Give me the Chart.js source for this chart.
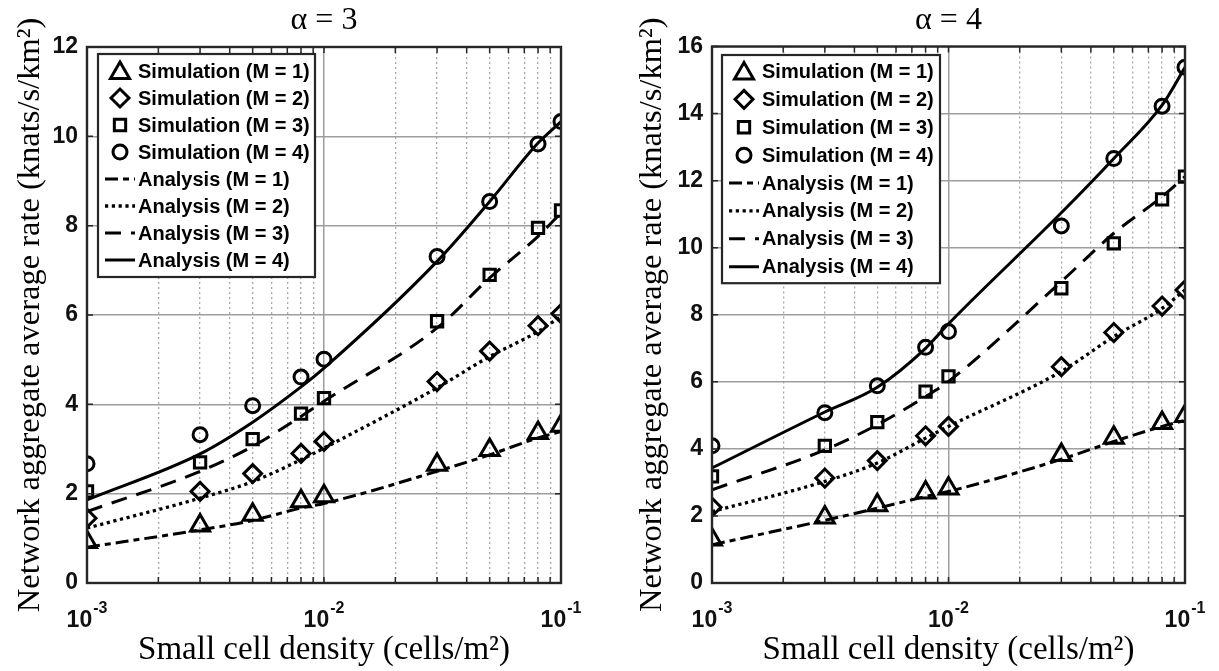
<!DOCTYPE html>
<html><head><meta charset="utf-8">
<script src="https://cdn.jsdelivr.net/npm/chart.js@4.4.0/dist/chart.umd.min.js"></script>
<style>
html,body{margin:0;padding:0;background:#fff;width:1219px;height:671px;overflow:hidden;}
.wrap{position:absolute;top:0;height:671px;}
canvas{display:block;}
</style></head><body>
<div class="wrap" style="left:0;width:600px"><canvas id="c1" width="600" height="671"></canvas></div>
<div class="wrap" style="left:610px;width:609px"><canvas id="c2" width="609" height="671"></canvas></div>
<script>
// ---- data ----
const densities = [0.001, 0.003, 0.005, 0.008, 0.01, 0.03, 0.05, 0.08, 0.1];
const xTickValues = [0.001, 0.01, 0.1];
const xTickBase = ['10', '10', '10'];
const xTickExp = ['-3', '-2', '-1'];
const xMinorValues = [0.002,0.003,0.004,0.005,0.006,0.007,0.008,0.009,0.02,0.03,0.04,0.05,0.06,0.07,0.08,0.09];
const seriesLabels = ['Simulation (M = 1)','Simulation (M = 2)','Simulation (M = 3)','Simulation (M = 4)',
                      'Analysis (M = 1)','Analysis (M = 2)','Analysis (M = 3)','Analysis (M = 4)'];
const titles = ['α = 3', 'α = 4'];
const xTitle = 'Small cell density (cells/m²)';
const yTitle = 'Network aggregate average rate (knats/s/km²)';

// alpha = 3
const a3SimM1 = [0.92, 1.29, 1.53, 1.83, 1.94, 2.65, 2.98, 3.36, 3.52];
const a3SimM2 = [1.45, 2.05, 2.45, 2.90, 3.17, 4.51, 5.19, 5.76, 6.03];
const a3SimM3 = [2.05, 2.70, 3.22, 3.79, 4.14, 5.86, 6.90, 7.95, 8.34];
const a3SimM4 = [2.67, 3.32, 3.97, 4.61, 5.01, 7.31, 8.54, 9.83, 10.33];
const a3AnaM1 = [0.80, 1.19, 1.40, 1.68, 1.78, 2.50, 2.87, 3.25, 3.39];
const a3AnaM2 = [1.23, 1.90, 2.27, 2.76, 3.02, 4.37, 5.07, 5.63, 5.97];
const a3AnaM3 = [1.60, 2.50, 3.06, 3.73, 4.07, 5.71, 6.83, 7.76, 8.29];
const a3AnaM4 = [1.86, 2.89, 3.60, 4.39, 4.81, 7.20, 8.54, 9.85, 10.33];
// alpha = 4
const a4SimM1 = [1.30, 1.95, 2.32, 2.70, 2.82, 3.82, 4.33, 4.77, 4.98];
const a4SimM2 = [2.26, 3.13, 3.65, 4.39, 4.67, 6.45, 7.47, 8.26, 8.74];
const a4SimM3 = [3.18, 4.09, 4.80, 5.71, 6.16, 8.79, 10.13, 11.44, 12.12];
const a4SimM4 = [4.09, 5.08, 5.88, 7.03, 7.50, 10.65, 12.66, 14.22, 15.38];
const a4AnaM1 = [1.14, 1.87, 2.23, 2.58, 2.73, 3.69, 4.22, 4.67, 4.85];
const a4AnaM2 = [2.13, 3.03, 3.58, 4.32, 4.67, 6.31, 7.35, 8.19, 8.74];
const a4AnaM3 = [2.78, 3.97, 4.72, 5.56, 6.01, 8.99, 10.43, 11.52, 12.12];
const a4AnaM4 = [3.43, 5.10, 5.84, 7.00, 7.73, 11.04, 12.66, 14.25, 15.38];

// ---- styles ----
const simStyles = [['triangle', 11], ['rectRot', 9], ['rect', 8], ['circle', 7]];
const anaDashes = [[13, 5, 6, 5], [3.2, 3.6], [16, 10], []];
const INK = '#262626';
const SANS = "'Liberation Sans', Arial, sans-serif";
const TICK_FONT = {family: SANS, size: 23, weight: 'bold'};
const SERIF = "'Liberation Serif', 'Times New Roman', serif";

function pts(vals) { return densities.map((d, i) => ({x: d, y: vals[i]})); }

function buildDatasets(sims, anas) {
  const ds = [];
  sims.forEach((v, i) => ds.push({
    label: seriesLabels[i], data: pts(v), showLine: false,
    pointStyle: simStyles[i][0], pointRadius: simStyles[i][1], pointHoverRadius: simStyles[i][1],
    pointBorderWidth: 3, pointBorderColor: '#000', pointBackgroundColor: 'rgba(0,0,0,0)',
    borderColor: '#000', borderWidth: 3
  }));
  anas.forEach((v, i) => ds.push({
    label: seriesLabels[4 + i], data: pts(v), showLine: true, pointRadius: 0, pointHoverRadius: 0,
    borderColor: '#000', borderWidth: i === 1 ? 3.3 : 3, borderDash: anaDashes[i],
    cubicInterpolationMode: 'monotone', fill: false
  }));
  return ds;
}

function drawMarker(ctx, style, r, x, y) {
  ctx.beginPath();
  if (style === 'circle') {
    ctx.arc(x, y, r, 0, Math.PI * 2);
  } else if (style === 'triangle') {
    ctx.moveTo(x, y - r);
    ctx.lineTo(x + Math.sin(2 * Math.PI / 3) * r, y - Math.cos(2 * Math.PI / 3) * r);
    ctx.lineTo(x - Math.sin(2 * Math.PI / 3) * r, y - Math.cos(2 * Math.PI / 3) * r);
    ctx.closePath();
  } else if (style === 'rect') {
    const s = Math.SQRT1_2 * r;
    ctx.rect(x - s, y - s, 2 * s, 2 * s);
  } else if (style === 'rectRot') {
    ctx.moveTo(x - r, y); ctx.lineTo(x, y - r); ctx.lineTo(x + r, y); ctx.lineTo(x, y + r);
    ctx.closePath();
  }
  ctx.stroke();
}

// frame + inward tick marks + x tick labels with superscript exponents
const framePlugin = {
  id: 'frame',
  afterDatasetsDraw(chart) {
    const {ctx, chartArea: ca, scales} = chart;
    ctx.save();
    ctx.strokeStyle = INK;
    ctx.lineWidth = 1.5;
    ctx.setLineDash([]);
    ctx.beginPath();
    ['x', 'x2'].forEach(id => scales[id].ticks.forEach(t => {
      const px = scales[id].getPixelForValue(t.value);
      ctx.moveTo(px, ca.bottom); ctx.lineTo(px, ca.bottom - 6);
      ctx.moveTo(px, ca.top); ctx.lineTo(px, ca.top + 6);
    }));
    scales.y.ticks.forEach(t => {
      const py = scales.y.getPixelForValue(t.value);
      ctx.moveTo(ca.left, py); ctx.lineTo(ca.left + 6, py);
      ctx.moveTo(ca.right, py); ctx.lineTo(ca.right - 6, py);
    });
    ctx.stroke();
    ctx.lineWidth = 2.4;
    ctx.strokeRect(ca.left, ca.top, ca.right - ca.left, ca.bottom - ca.top);

    // x tick labels: base + raised exponent
    ctx.fillStyle = '#111';
    ctx.textBaseline = 'alphabetic';
    ctx.textAlign = 'left';
    xTickValues.forEach((v, i) => {
      const px = scales.x.getPixelForValue(v);
      ctx.font = `bold 23px ${SANS}`;
      const wb = ctx.measureText(xTickBase[i]).width;
      ctx.font = `bold 16px ${SANS}`;
      const we = ctx.measureText(xTickExp[i]).width;
      const start = px - (wb + we + 1) / 2;
      ctx.font = `bold 23px ${SANS}`;
      ctx.fillText(xTickBase[i], start, ca.bottom + 44);
      ctx.font = `bold 16px ${SANS}`;
      ctx.fillText(xTickExp[i], start + wb + 1, ca.bottom + 30);
    });
    ctx.restore();
  }
};

// boxed legend inside the plot area (reads labels/styles from datasets)
const boxLegendPlugin = {
  id: 'boxLegend',
  afterDatasetsDraw(chart, args, opts) {
    const {ctx, chartArea: ca} = chart;
    const dsets = chart.data.datasets;
    const x0 = ca.left + opts.dx, y0 = ca.top + opts.dy;
    const h = dsets.length * opts.row + opts.padY * 2;
    ctx.save();
    ctx.fillStyle = '#fff';
    ctx.fillRect(x0, y0, opts.width, h);
    ctx.strokeStyle = INK;
    ctx.lineWidth = 2.2;
    ctx.setLineDash([]);
    ctx.strokeRect(x0, y0, opts.width, h);
    dsets.forEach((ds, k) => {
      const cy = y0 + opts.padY + opts.row * (k + 0.5);
      ctx.strokeStyle = '#000';
      if (ds.showLine === false) {
        ctx.setLineDash([]);
        ctx.lineWidth = ds.pointBorderWidth;
        drawMarker(ctx, ds.pointStyle, ds.pointRadius, x0 + 22, cy + (ds.pointStyle === 'triangle' ? 2 : 0));
      } else {
        ctx.setLineDash(ds.borderDash || []);
        ctx.lineWidth = ds.borderWidth;
        ctx.beginPath();
        ctx.moveTo(x0 + 7, cy); ctx.lineTo(x0 + 37, cy);
        ctx.stroke();
      }
      ctx.setLineDash([]);
      ctx.fillStyle = '#000';
      ctx.font = `bold 20px ${SANS}`;
      ctx.textAlign = 'left';
      ctx.textBaseline = 'middle';
      ctx.fillText(ds.label, x0 + 40, cy + 1);
    });
    ctx.restore();
  }
};

function makeChart(canvasId, title, datasets, yMax, cfg) {
  return new Chart(document.getElementById(canvasId), {
    type: 'line',
    data: {datasets},
    plugins: [framePlugin, boxLegendPlugin],
    options: {
      responsive: false,
      maintainAspectRatio: false,
      animation: false,
      events: [],
      layout: {padding: {left: 0, right: cfg.padRight, top: 0, bottom: 0}},
      plugins: {
        legend: {display: false},
        tooltip: {enabled: false},
        title: {
          display: true, text: title, fullSize: false, color: '#000',
          font: {family: SERIF, size: 32, weight: 'normal', lineHeight: 1},
          padding: {top: 5, bottom: cfg.titleBottom}
        },
        boxLegend: cfg.legend
      },
      scales: {
        x: {
          type: 'logarithmic', position: 'bottom', min: 0.001, max: 0.1,
          afterBuildTicks: s => { s.ticks = xTickValues.map(v => ({value: v})); },
          afterFit: s => { s.height = 88; },
          ticks: {display: false},
          grid: {color: '#9e9e9e', lineWidth: 1.5, drawTicks: false},
          border: {display: false},
          title: {display: true, text: xTitle, color: '#000',
                  font: {family: SERIF, size: 33, weight: 'normal'},
                  padding: {top: 0, bottom: 1}}
        },
        x2: {
          type: 'logarithmic', position: 'bottom', min: 0.001, max: 0.1,
          afterBuildTicks: s => { s.ticks = xMinorValues.map(v => ({value: v})); },
          afterFit: s => { s.height = 0; },
          ticks: {display: false},
          grid: {color: '#a8a8a8', lineWidth: 1.3, drawTicks: false},
          border: {display: false, dash: [2, 3]}
        },
        y: {
          type: 'linear', position: 'left', min: 0, max: yMax,
          afterFit: s => { s.width = cfg.yWidth; },
          ticks: {stepSize: 2, padding: 9, color: '#111', font: TICK_FONT},
          grid: {color: '#9e9e9e', lineWidth: 1.5, drawTicks: false},
          border: {display: false},
          title: {display: true, text: yTitle, color: '#000',
                  font: {family: SERIF, size: 32.5, weight: 'normal'},
                  padding: {top: cfg.yTitlePad, bottom: 0}}
        }
      }
    }
  });
}

makeChart('c1', titles[0],
  buildDatasets([a3SimM1, a3SimM2, a3SimM3, a3SimM4], [a3AnaM1, a3AnaM2, a3AnaM3, a3AnaM4]), 12,
  {padRight: 39, yWidth: 87, yTitlePad: 11, titleBottom: 10,
   legend: {dx: 11, dy: 7, width: 217, row: 27, padY: 3.5}});
makeChart('c2', titles[1],
  buildDatasets([a4SimM1, a4SimM2, a4SimM3, a4SimM4], [a4AnaM1, a4AnaM2, a4AnaM3, a4AnaM4]), 16,
  {padRight: 34, yWidth: 102, yTitlePad: 23, titleBottom: 9.5,
   legend: {dx: 10, dy: 8.5, width: 218, row: 27.9, padY: 2.5}});
</script>
</body></html>
